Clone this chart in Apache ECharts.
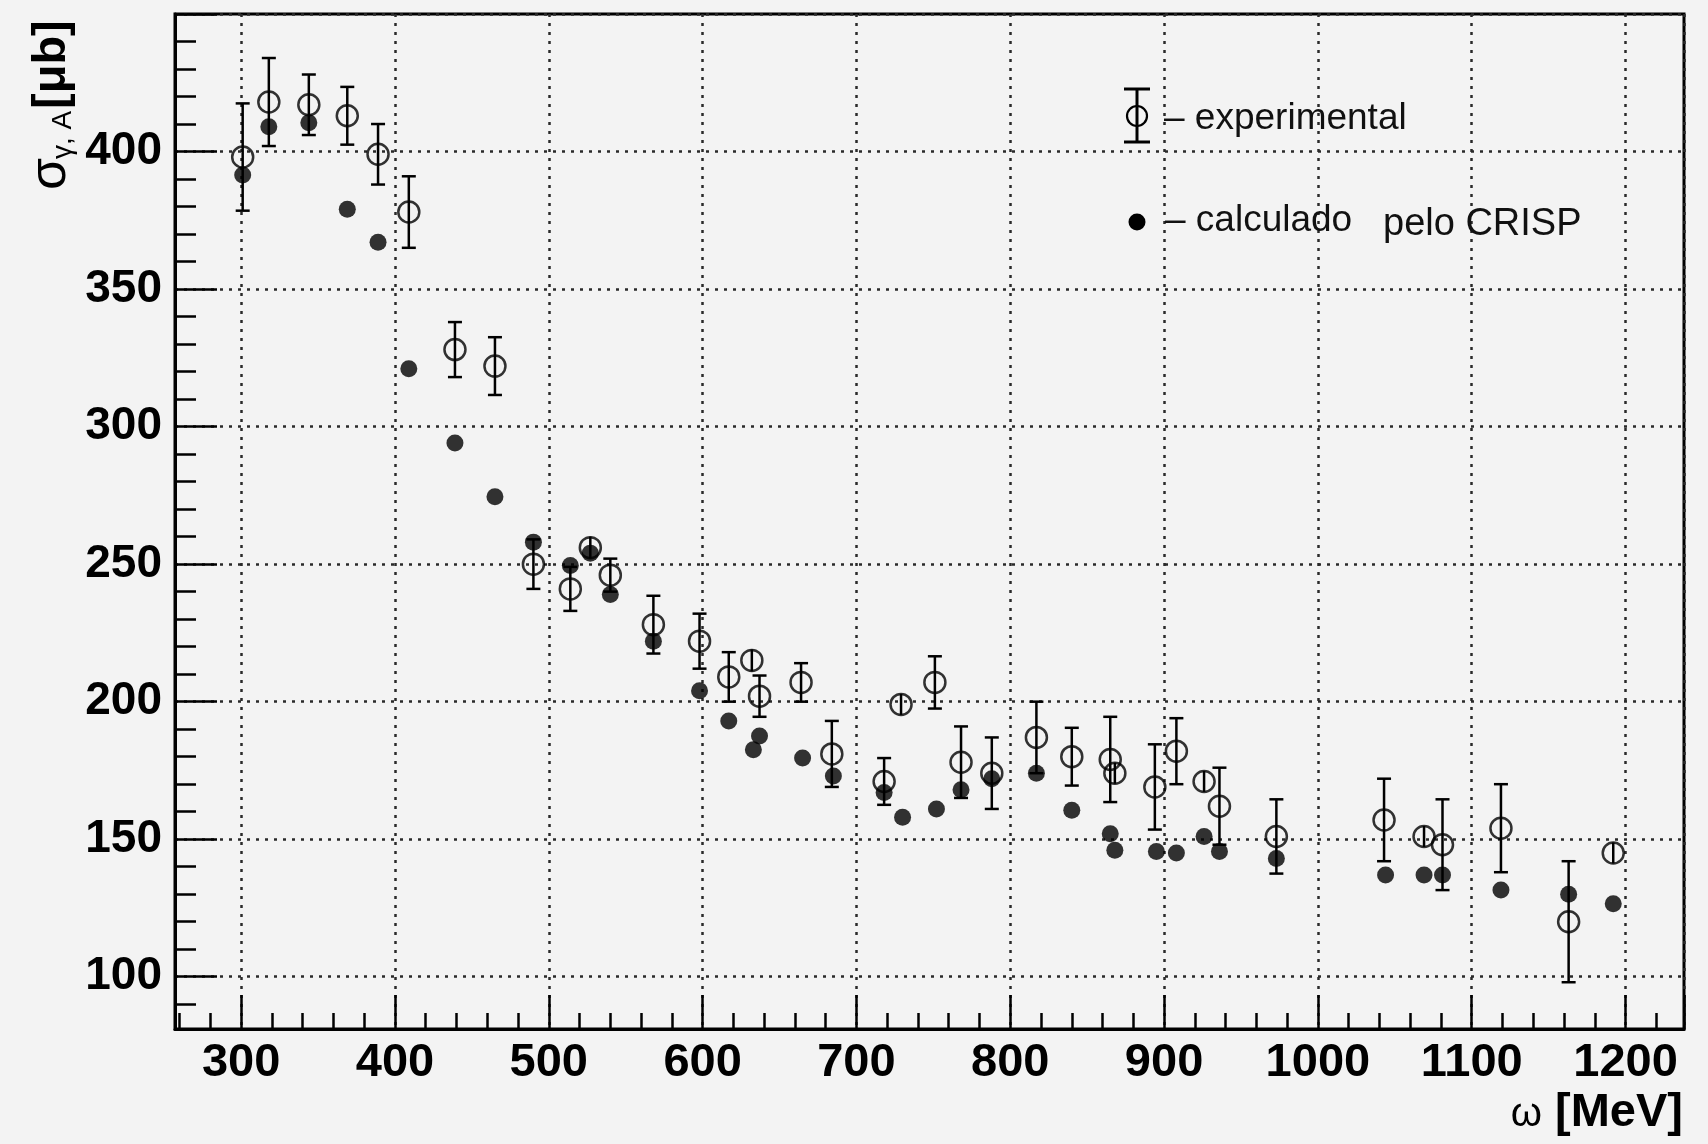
<!DOCTYPE html>
<html>
<head>
<meta charset="utf-8">
<title>sigma gamma A</title>
<script src="https://cdn.jsdelivr.net/npm/echarts@6/dist/echarts.min.js"></script>
<style>
  html, body { margin: 0; padding: 0; background: #f3f3f3; }
  #main { width: 1708px; height: 1144px; }
</style>
</head>
<body>
<div id="main"></div>
<script>
// experimental points (open circles + error bars)
var expEnergy = [301, 318, 344, 369, 389, 409, 439, 465, 490, 514, 527, 540, 568, 598, 617, 632, 637, 664, 684, 718, 729, 751, 768, 788, 817, 840, 865, 868, 894, 908, 926, 936, 973, 1043, 1069, 1081, 1119, 1163, 1192];
var expSigma = [398, 418, 417, 413, 399, 378, 328, 322, 250, 241, 256, 246, 228, 222, 209, 215, 202, 207, 181, 171, 199, 207, 178, 174, 187, 180, 179, 174, 169, 182, 171, 162, 151, 157, 151, 148, 154, 120, 145];
var expError = [19.5, 16, 11, 10.5, 11, 13, 10, 10.5, 9, 8, 4, 6, 10.5, 10, 9, 4, 7.5, 7, 12, 8.5, 2, 9.5, 13, 13, 13, 10.5, 15.5, 3, 15.5, 12, 3, 14, 13.5, 15, 3, 16.5, 16, 22, 3];

// CRISP calculation (filled dots)
var calcEnergy = [301, 318, 344, 369, 389, 409, 439, 465, 490, 514, 527, 540, 568, 598, 617, 633, 637, 665, 685, 718, 730, 752, 768, 788, 817, 840, 865, 868, 895, 908, 926, 936, 973, 1044, 1069, 1081, 1119, 1163, 1192];
var calcSigma = [391.5, 409, 410.5, 379, 367, 321, 294, 274.5, 258, 249.5, 254, 239, 222, 204, 193, 182.5, 187.5, 179.5, 173, 167, 158, 161, 168, 172, 174, 160.5, 152, 146, 145.5, 145, 151, 145.5, 143, 137, 137, 137, 131.5, 130, 126.5];

var xMin = 257, xMax = 1238;
var yMin = 81, yMax = 450;

var FONT = 'Liberation Sans, Arial, Helvetica, sans-serif';
var CIRCLE_R = 10.5;

var expData = expEnergy.map(function (e, i) { return [e, expSigma[i], expError[i]]; });
var calcData = calcEnergy.map(function (e, i) { return [e, calcSigma[i]]; });

// vertical error bar through the marker, caps when it sticks out
function renderErrorBar(params, api) {
  var x = api.value(0), y = api.value(1), err = api.value(2);
  var c = api.coord([x, y]);
  var hi = api.coord([x, y + err]);
  var lo = api.coord([x, y - err]);
  var top = Math.min(hi[1], c[1] - CIRCLE_R);
  var bot = Math.max(lo[1], c[1] + CIRCLE_R);
  var st = { stroke: '#000', lineWidth: 2.5 };
  var kids = [{ type: 'line', shape: { x1: c[0], y1: top, x2: c[0], y2: bot }, style: st }];
  if (c[1] - hi[1] > CIRCLE_R + 1) {
    kids.push({ type: 'line', shape: { x1: c[0] - 7, y1: hi[1], x2: c[0] + 7, y2: hi[1] }, style: st });
    kids.push({ type: 'line', shape: { x1: c[0] - 7, y1: lo[1], x2: c[0] + 7, y2: lo[1] }, style: st });
  }
  return { type: 'group', children: kids };
}

function plainNumber(v) {
  return String(v);
}

var chart = echarts.init(document.getElementById('main'));

var gridLine = { show: true, lineStyle: { color: '#2a2a2a', width: 2.5, type: [3, 6] } };

var option = {
  backgroundColor: '#f3f3f3',
  animation: false,
  grid: {
    left: 175, right: 24, top: 14, bottom: 115,
    show: true, borderColor: '#000', borderWidth: 3,
    backgroundColor: 'transparent',
    outerBoundsMode: 'none'
  },
  xAxis: {
    type: 'value',
    min: xMin, max: xMax,
    splitNumber: 10,
    axisLine: { show: true, lineStyle: { color: '#000', width: 3 } },
    axisTick: { show: true, inside: true, length: 34, lineStyle: { color: '#000', width: 2.5 } },
    minorTick: { show: true, splitNumber: 5, length: 16, lineStyle: { color: '#000', width: 2.5 } },
    axisLabel: {
      show: true, margin: 11, color: '#000', fontFamily: FONT, fontSize: 47, fontWeight: 'bold',
      showMinLabel: false, showMaxLabel: false, formatter: plainNumber
    },
    splitLine: gridLine
  },
  yAxis: {
    type: 'value',
    min: yMin, max: yMax,
    splitNumber: 7,
    axisLine: { show: true, lineStyle: { color: '#000', width: 3 } },
    axisTick: { show: true, inside: true, length: 42, lineStyle: { color: '#000', width: 2.5 } },
    minorTick: { show: true, splitNumber: 5, length: 21, lineStyle: { color: '#000', width: 2.5 } },
    axisLabel: {
      show: true, margin: 13, color: '#000', fontFamily: FONT, fontSize: 46, fontWeight: 'bold',
      showMinLabel: false, showMaxLabel: false, formatter: plainNumber
    },
    splitLine: gridLine
  },
  series: [
    {
      name: 'erro',
      type: 'custom',
      renderItem: renderErrorBar,
      encode: { x: 0, y: 1 },
      data: expData,
      z: 3
    },
    {
      name: 'experimental',
      type: 'scatter',
      symbol: 'circle',
      symbolSize: CIRCLE_R * 2,
      itemStyle: { color: 'rgba(0,0,0,0)', borderColor: '#000', borderWidth: 2.5 },
      data: expData.map(function (d) { return [d[0], d[1]]; }),
      z: 4
    },
    {
      name: 'calculado pelo CRISP',
      type: 'scatter',
      symbol: 'circle',
      symbolSize: 17,
      itemStyle: { color: '#000' },
      data: calcData,
      z: 5
    }
  ],
  graphic: [
    // y axis title, rotated
    {
      type: 'group', x: 67, y: 190, rotation: Math.PI / 2,
      children: [
        { type: 'text', x: 0, y: -16, style: { text: 'σ', fill: '#000', font: 'normal 52px ' + FONT, align: 'left', verticalAlign: 'middle' } },
        { type: 'text', x: 31, y: -4, style: { text: 'γ, A', fill: '#000', font: 'normal 28px ' + FONT, align: 'left', verticalAlign: 'middle' } },
        { type: 'text', x: 81, y: -15, style: { text: '[μb]', fill: '#000', font: 'bold 47px ' + FONT, align: 'left', verticalAlign: 'middle' } }
      ]
    },
    // x axis title
    { type: 'text', x: 1683, y: 1113, style: { text: '[MeV]', fill: '#000', font: 'bold 47px ' + FONT, align: 'right', verticalAlign: 'middle' } },
    { type: 'text', x: 1542, y: 1115, style: { text: 'ω', fill: '#000', font: 'normal 40px ' + FONT, align: 'right', verticalAlign: 'middle' } },
    // legend
    { type: 'line', shape: { x1: 1137, y1: 89, x2: 1137, y2: 142 }, style: { stroke: '#000', lineWidth: 3 }, z: 10 },
    { type: 'line', shape: { x1: 1124, y1: 89, x2: 1150, y2: 89 }, style: { stroke: '#000', lineWidth: 3 }, z: 10 },
    { type: 'line', shape: { x1: 1124, y1: 142, x2: 1150, y2: 142 }, style: { stroke: '#000', lineWidth: 3 }, z: 10 },
    { type: 'circle', shape: { cx: 1137, cy: 116, r: 10 }, style: { fill: 'none', stroke: '#000', lineWidth: 2.2 }, z: 10 },
    { type: 'text', x: 1164, y: 119, style: { text: '– experimental', fill: '#111', font: 'normal 37px ' + FONT, align: 'left', verticalAlign: 'middle' }, z: 10 },
    { type: 'circle', shape: { cx: 1137, cy: 222, r: 8.5 }, style: { fill: '#000' }, z: 10 },
    { type: 'text', x: 1165, y: 221, style: { text: '– calculado', fill: '#111', font: 'normal 37px ' + FONT, align: 'left', verticalAlign: 'middle' }, z: 10 },
    { type: 'text', x: 1383, y: 225, style: { text: 'pelo CRISP', fill: '#111', font: 'normal 38px ' + FONT, align: 'left', verticalAlign: 'middle' }, z: 10 }
  ]
};

chart.setOption(option);
</script>
</body>
</html>
